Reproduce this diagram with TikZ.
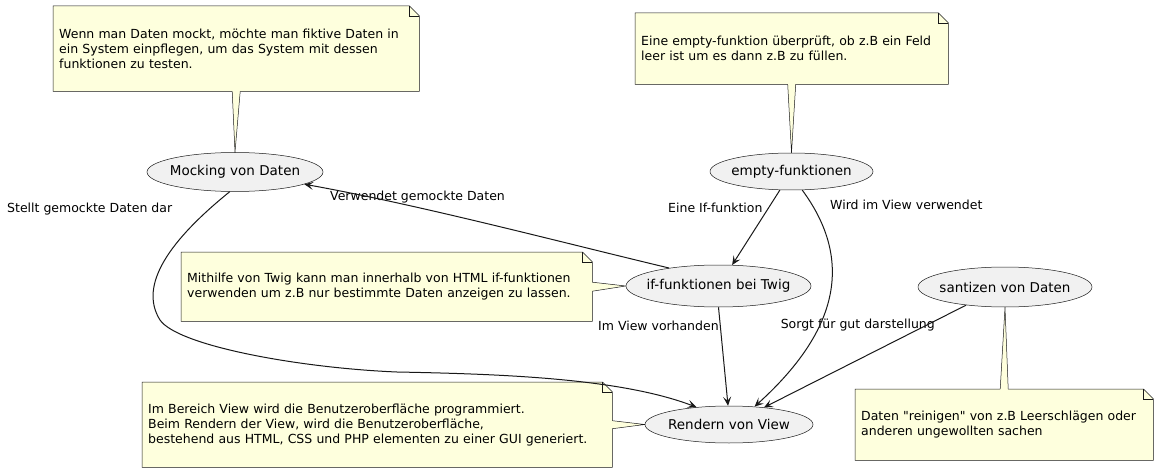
\documentclass[tikz,border=0pt]{standalone}
\usepackage{fontspec}
\setmainfont[Ligatures=TeXOff]{DejaVu Sans}
\usepackage{xcolor}
\usetikzlibrary{shapes.geometric,arrows.meta,backgrounds}
\definecolor{notebg}{HTML}{FEFFDD}
\definecolor{ucbg}{HTML}{F1F1F1}
\definecolor{umlline}{HTML}{181818}
\tikzset{
  uc/.style={ellipse, draw=umlline, line width=0.5pt, fill=ucbg, inner xsep=-12pt, inner ysep=0pt, font=\fontsize{13.5pt}{16pt}\selectfont},
  notetext/.style={anchor=north west, inner xsep=6pt, inner ysep=0pt, align=left, font=\fontsize{12.5pt}{15pt}\selectfont},
  notepaper/.style={fill=notebg, draw=umlline, line width=0.5pt},
  pointer/.style={fill=notebg},
  pointerline/.style={draw=umlline, line width=0.5pt},
  arr/.style={draw=umlline, line width=1pt, -{Stealth[length=9pt,width=8pt,inset=4pt]}},
  lbl/.style={inner sep=0pt, font=\fontsize{12.5pt}{15pt}\selectfont}
}
\begin{document}
\begin{tikzpicture}[x=1pt, y=-1pt]
\useasboundingbox (0,0) rectangle (1159,473);

\node[uc, minimum width=176pt, minimum height=39pt] (mock) at (235,172) {Mocking von Daten};
\node[uc, minimum width=163pt, minimum height=37pt] (empty) at (791.5,171.5) {empty-funktionen};
\node[uc, minimum width=185pt, minimum height=42pt] (iff) at (718.5,286) {if-funktionen bei Twig};
\node[uc, minimum width=174pt, minimum height=40pt] (san) at (1005,287) {santizen von Daten};
\node[uc, minimum width=168pt, minimum height=37pt] (rend) at (729,424.5) {Rendern von View};

\node[notetext, text width=354pt, minimum height=85pt] (nmock) at (53,6) {Wenn man Daten mockt, möchte man fiktive Daten in\\ein System einpflegen, um das System mit dessen\\funktionen zu testen.};
\node[notetext, text width=301pt, minimum height=71pt] (nempty) at (635,13) {Eine empty-funktion überprüft, ob z.B ein Feld\\leer ist um es dann z.B zu füllen.};
\node[notetext, text width=399pt, minimum height=69pt] (niff) at (181,252) {Mithilfe von Twig kann man innerhalb von HTML if-funktionen\\verwenden um z.B nur bestimmte Daten anzeigen zu lassen.};
\node[notetext, text width=458pt, minimum height=85pt] (nrend) at (142,382) {Im Bereich View wird die Benutzeroberfläche programmiert.\\Beim Rendern der View, wird die Benutzeroberfläche,\\bestehend aus HTML, CSS und PHP elementen zu einer GUI generiert.};
\node[notetext, text width=286pt, minimum height=71pt] (nsan) at (855,389) {Daten "reinigen" von z.B Leerschlägen oder\\anderen ungewollten sachen};

\node[lbl, anchor=base west] (lstell) at (7,212) {Stellt gemockte Daten dar};
\node[lbl, anchor=base west] (lverw) at (330,201) {Verwendet gemockte Daten};
\node[lbl, anchor=base west] (leine) at (668,212) {Eine If-funktion};
\node[lbl, anchor=base west] (lwird) at (830,210) {Wird im View verwendet};
\node[lbl, anchor=base west] (limview) at (598,330) {Im View vorhanden};
\node[lbl, anchor=base east] (lsorgt) at (935,328) {Sorgt für gut darstellung};

\draw[arr] (mock.255) .. controls (170,240) and (138,285) .. (160,320) .. controls (178,346) and (300,368) .. (397,372) .. controls (500,374) and (620,378) .. (rend.152);
\draw[arr] (iff.160) .. controls (560,242) and (420,205) .. (mock.350);
\draw[arr] (empty.238) -- (iff.57);
\draw[arr] (empty.300) .. controls (850,255) and (845,325) .. (rend.35);
\draw[arr] (iff.south) -- (rend.93);
\draw[arr] (san.205) -- (rend.26);

\begin{scope}[on background layer]
\filldraw[notepaper] (nmock.north west) -- ([xshift=-10pt]nmock.north east) -- ([yshift=-10pt]nmock.north east) -- (nmock.south east) -- (nmock.south west) -- cycle;
\draw[pointerline] ([xshift=-10pt]nmock.north east) |- ([yshift=-10pt]nmock.north east);
\filldraw[notepaper] (nempty.north west) -- ([xshift=-10pt]nempty.north east) -- ([yshift=-10pt]nempty.north east) -- (nempty.south east) -- (nempty.south west) -- cycle;
\draw[pointerline] ([xshift=-10pt]nempty.north east) |- ([yshift=-10pt]nempty.north east);
\filldraw[notepaper] (niff.north west) -- ([xshift=-10pt]niff.north east) -- ([yshift=-10pt]niff.north east) -- (niff.south east) -- (niff.south west) -- cycle;
\draw[pointerline] ([xshift=-10pt]niff.north east) |- ([yshift=-10pt]niff.north east);
\filldraw[notepaper] (nrend.north west) -- ([xshift=-10pt]nrend.north east) -- ([yshift=-10pt]nrend.north east) -- (nrend.south east) -- (nrend.south west) -- cycle;
\draw[pointerline] ([xshift=-10pt]nrend.north east) |- ([yshift=-10pt]nrend.north east);
\filldraw[notepaper] (nsan.north west) -- ([xshift=-10pt]nsan.north east) -- ([yshift=-10pt]nsan.north east) -- (nsan.south east) -- (nsan.south west) -- cycle;
\draw[pointerline] ([xshift=-10pt]nsan.north east) |- ([yshift=-10pt]nsan.north east);

\fill[pointer] ([xshift=-4pt,yshift=1pt]nmock.south) -- (mock.north) -- ([xshift=4pt,yshift=1pt]nmock.south) -- cycle;
\draw[pointerline] ([xshift=-4pt]nmock.south) -- (mock.north) -- ([xshift=4pt]nmock.south);
\fill[pointer] ([xshift=-4pt,yshift=1pt]nempty.south) -- (empty.north) -- ([xshift=4pt,yshift=1pt]nempty.south) -- cycle;
\draw[pointerline] ([xshift=-4pt]nempty.south) -- (empty.north) -- ([xshift=4pt]nempty.south);
\fill[pointer] ([xshift=-1pt,yshift=4.5pt]niff.east) -- (iff.west) -- ([xshift=-1pt,yshift=-4.5pt]niff.east) -- cycle;
\draw[pointerline] ([yshift=4.5pt]niff.east) -- (iff.west) -- ([yshift=-4.5pt]niff.east);
\fill[pointer] ([xshift=-1pt,yshift=4pt]nrend.east) -- (rend.west) -- ([xshift=-1pt,yshift=-4pt]nrend.east) -- cycle;
\draw[pointerline] ([yshift=4pt]nrend.east) -- (rend.west) -- ([yshift=-4pt]nrend.east);
\fill[pointer] ([xshift=-4pt,yshift=-1pt]nsan.north) -- (san.south) -- ([xshift=4pt,yshift=-1pt]nsan.north) -- cycle;
\draw[pointerline] ([xshift=-4pt]nsan.north) -- (san.south) -- ([xshift=4pt]nsan.north);
\end{scope}
\end{tikzpicture}
\end{document}
